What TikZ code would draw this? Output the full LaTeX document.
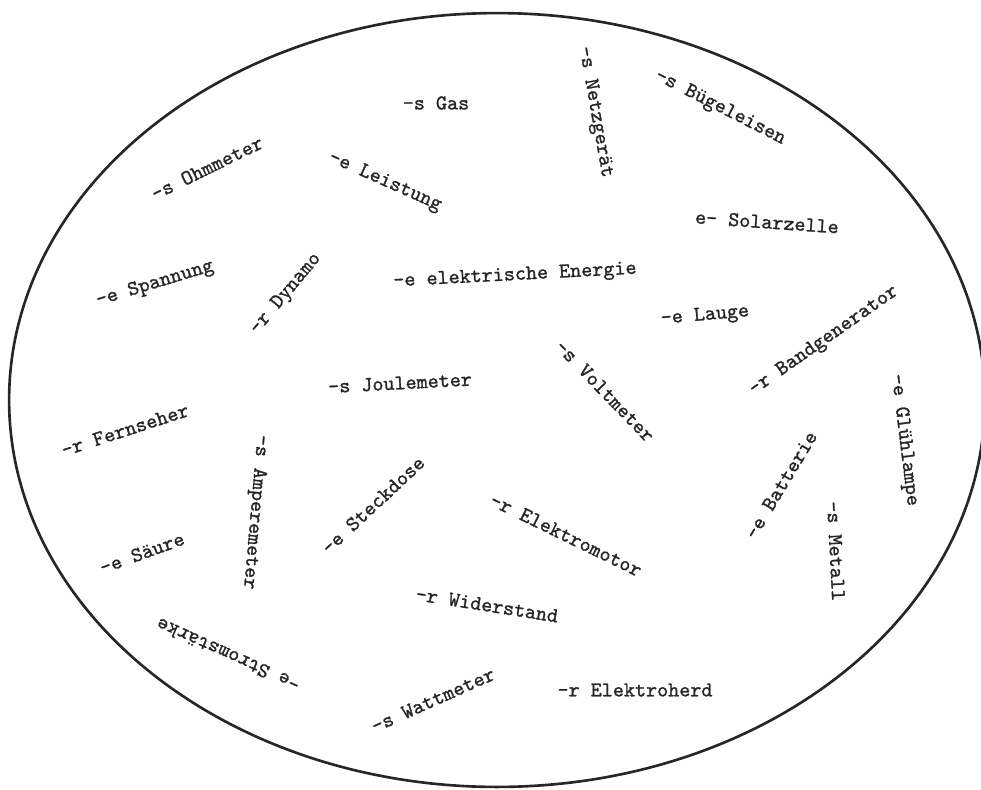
\documentclass[tikz,border=0pt]{standalone}
\usepackage{fontspec}
\usepackage{tikz}

\newfontfamily\schreibfont{lmmono10-regular.otf}[FakeBold=1.2]

\tikzset{
    word/.style={font=\fontsize{12}{14}\selectfont\schreibfont, text=black!85, inner sep=0pt},
    rand/.style={line width=1.5pt, draw=black!85}
}

\begin{document}
\begin{tikzpicture}[x=0.02cm, y=-0.02cm]
    \useasboundingbox (0,0) rectangle (981,789);
    \draw[rand] (497,400) ellipse [x radius=9.76cm, y radius=7.74cm];

    \node[word] (gas)         at (436,103) {-s Gas};
    \node[word, rotate=-80] (netzgeraet)  at (595,112) {-s Netzgerät};
    \node[word, rotate=-27] (buegeleisen) at (720,108) {-s Bügeleisen};
    \node[word, rotate=26]  (ohmmeter)    at (207,168) {-s Ohmmeter};
    \node[word, rotate=-24] (leistung)    at (385,182) {-e Leistung};
    \node[word, rotate=-4]  (solarzelle)  at (767,222) {e- Solarzelle};
    \node[word, rotate=17]  (spannung)    at (155,284) {-e Spannung};
    \node[word, rotate=50]  (dynamo)      at (286,294) {-r Dynamo};
    \node[word, rotate=3]   (energie)     at (515,276) {-e elektrische Energie};
    \node[word, rotate=5]   (lauge)       at (705,316) {-e Lauge};
    \node[word, rotate=35]  (bandgen)     at (824,341) {-r Bandgenerator};
    \node[word, rotate=-46] (voltmeter)   at (605,391) {-s Voltmeter};
    \node[word, rotate=3]   (joulemeter)  at (400,383) {-s Joulemeter};
    \node[word, rotate=18]  (fernseher)   at (125,430) {-r Fernseher};
    \node[word, rotate=-95] (amperemeter) at (255,512) {-s Amperemeter};
    \node[word, rotate=-83] (gluehlampe)  at (904,440) {-e Glühlampe};
    \node[word, rotate=59]  (batterie)    at (781,485) {-e Batterie};
    \node[word, rotate=43]  (steckdose)   at (373,505) {-e Steckdose};
    \node[word, rotate=-26] (elmotor)     at (566,535) {-r Elektromotor};
    \node[word, rotate=20]  (saeure)      at (142,553) {-e Säure};
    \node[word, rotate=-87] (metall)      at (836,551) {-s Metall};
    \node[word, rotate=-9]  (widerstand)  at (487,605) {-r Widerstand};
    \node[word, rotate=156] (stromstaerke) at (228,655) {-e Stromstärke};
    \node[word]             (elherd)      at (635,690) {-r Elektroherd};
    \node[word, rotate=24]  (wattmeter)   at (433,700) {-s Wattmeter};
\end{tikzpicture}
\end{document}
